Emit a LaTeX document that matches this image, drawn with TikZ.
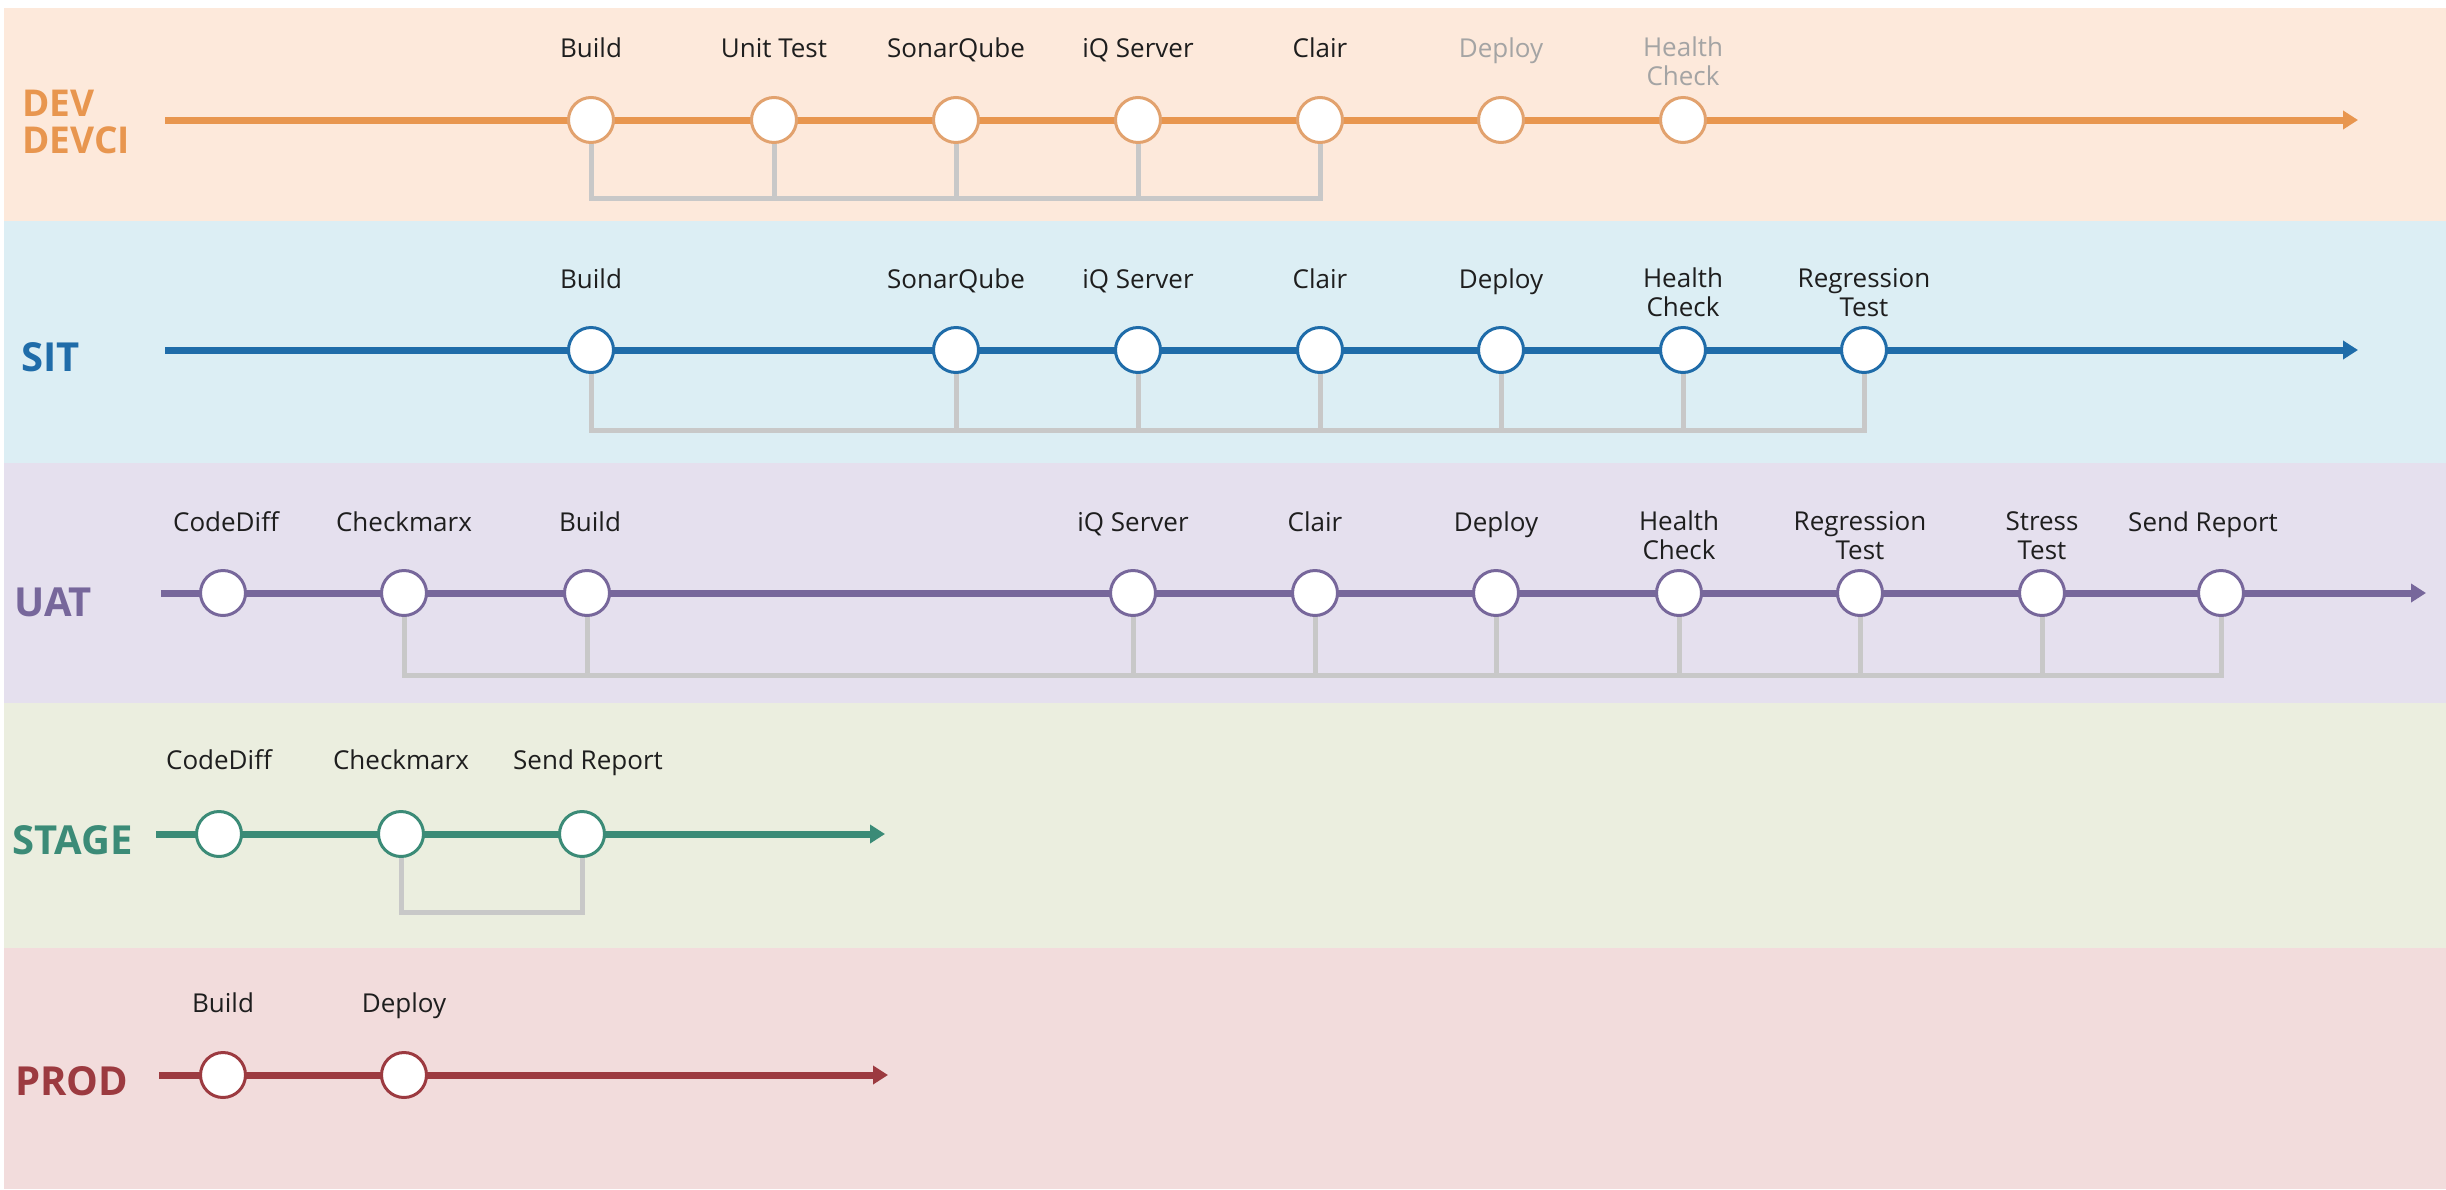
\documentclass[tikz,border=0pt]{standalone}
\usepackage{fontspec}
\setmainfont{Open Sans}
\usetikzlibrary{arrows.meta}
\definecolor{devbg}{HTML}{FDE9DB}
\definecolor{sitbg}{HTML}{DCEEF4}
\definecolor{uatbg}{HTML}{E5E0EE}
\definecolor{stagebg}{HTML}{EBEEDF}
\definecolor{prodbg}{HTML}{F2DCDC}
\definecolor{devc}{HTML}{E8964F}
\definecolor{devcirc}{HTML}{E2A26E}
\definecolor{sitc}{HTML}{1F6CA9}
\definecolor{uatc}{HTML}{77679B}
\definecolor{stagec}{HTML}{3B8B77}
\definecolor{prodc}{HTML}{9C3A40}
\definecolor{txt}{HTML}{1E1E1E}
\definecolor{gtxt}{HTML}{A4A4A4}
\definecolor{brk}{HTML}{C8C8C8}
\begin{document}
\begin{tikzpicture}[x=1pt,y=-1pt,
  stepnode/.style={circle, draw, fill=white, line width=3pt, minimum size=45pt, inner sep=0pt},
  lbl/.style={font=\fontsize{26}{29}\selectfont, align=center, anchor=north, inner sep=0pt, execute at begin node=\strut},
  tl/.style={line width=7pt, -{Triangle[length=15pt,width=18pt]}},
  bracket/.style={draw=brk, line width=5pt},
  stagelbl/.style={font=\fontsize{40}{40}\selectfont\bfseries, inner sep=0pt, anchor=west}]
\useasboundingbox (0,0) rectangle (2446,1189);
\fill[white] (0,0) rectangle (2446,1189);
% bands
\fill[devbg] (4,8) rectangle (2446,221);
\fill[sitbg] (4,221) rectangle (2446,463);
\fill[uatbg] (4,463) rectangle (2446,703);
\fill[stagebg] (4,703) rectangle (2446,948);
\fill[prodbg] (4,948) rectangle (2446,1189);

% stage names
\node[font=\fontsize{37}{37}\selectfont\bfseries, text=devc, inner sep=0pt, anchor=north west, align=left] (devname) at (22,90) {DEV\\DEVCI};
\node[stagelbl, text=sitc] (sitname) at (21,357) {SIT};
\node[stagelbl, text=uatc] (uatname) at (14,602) {UAT};
\node[stagelbl, text=stagec] (stagename) at (12,840) {STAGE};
\node[stagelbl, text=prodc] (prodname) at (15,1081) {PROD};

% ---------------- DEV ----------------
\coordinate (devS) at (165,120);
\coordinate (devE) at (2358,120);
\draw[tl, draw=devc] (devS) -- (devE);
\foreach \n/\x/\t/\c in {dA/591/Build/txt, dB/774/Unit Test/txt, dC/956/SonarQube/txt, dD/1138/iQ Server/txt, dE/1320/Clair/txt, dF/1501/Deploy/gtxt, dG/1683/{Health\\Check}/gtxt}{
  \node[stepnode, draw=devcirc] (\n) at (\x,120) {};
  \node[lbl, text=\c] (\n L) at (\x,37) {\t};
}
\coordinate (devB) at (0,198);
\draw[bracket] (dA.south) |- (dE.south |- devB) -- (dE.south);
\foreach \n in {dB,dC,dD}{\draw[bracket] (\n.south) -- (\n.south |- devB);}

% ---------------- SIT ----------------
\coordinate (sitS) at (165,350);
\coordinate (sitE) at (2358,350);
\draw[tl, draw=sitc] (sitS) -- (sitE);
\foreach \n/\x/\t in {sA/591/Build, sC/956/SonarQube, sD/1138/iQ Server, sE/1320/Clair, sF/1501/Deploy, sG/1683/{Health\\Check}, sH/1864/{Regression\\Test}}{
  \node[stepnode, draw=sitc] (\n) at (\x,350) {};
  \node[lbl, text=txt] (\n L) at (\x,268) {\t};
}
\coordinate (sitB) at (0,430);
\draw[bracket] (sA.south) |- (sH.south |- sitB) -- (sH.south);
\foreach \n in {sC,sD,sE,sF,sG}{\draw[bracket] (\n.south) -- (\n.south |- sitB);}

% ---------------- UAT ----------------
\coordinate (uatS) at (161,593);
\coordinate (uatE) at (2426,593);
\draw[tl, draw=uatc] (uatS) -- (uatE);
\foreach \n/\x/\lx/\t in {uA/223/226/CodeDiff, uB/404/404/Checkmarx, uC/587/590/Build, uD/1133/1133/iQ Server, uE/1315/1315/Clair, uF/1496/1496/Deploy, uG/1679/1679/{Health\\Check}, uH/1860/1860/{Regression\\Test}, uI/2042/2042/{Stress\\Test}, uJ/2221/2203/Send Report}{
  \node[stepnode, draw=uatc] (\n) at (\x,593) {};
  \node[lbl, text=txt] (\n L) at (\lx,511) {\t};
}
\coordinate (uatB) at (0,675);
\draw[bracket] (uB.south) |- (uJ.south |- uatB) -- (uJ.south);
\foreach \n in {uC,uD,uE,uF,uG,uH,uI}{\draw[bracket] (\n.south) -- (\n.south |- uatB);}

% ---------------- STAGE ----------------
\coordinate (stS) at (156,834);
\coordinate (stE) at (885,834);
\draw[tl, draw=stagec] (stS) -- (stE);
\foreach \n/\x/\lx/\t in {tA/219/219/CodeDiff, tB/401/401/Checkmarx, tC/582/588/Send Report}{
  \node[stepnode, draw=stagec] (\n) at (\x,834) {};
  \node[lbl, text=txt] (\n L) at (\lx,749) {\t};
}
\coordinate (stB) at (0,912);
\draw[bracket] (tB.south) |- (tC.south |- stB) -- (tC.south);

% ---------------- PROD ----------------
\coordinate (prS) at (159,1075);
\coordinate (prE) at (888,1075);
\draw[tl, draw=prodc] (prS) -- (prE);
\foreach \n/\x/\t in {pA/223/Build, pB/404/Deploy}{
  \node[stepnode, draw=prodc] (\n) at (\x,1075) {};
  \node[lbl, text=txt] (\n L) at (\x,992) {\t};
}
\end{tikzpicture}
\end{document}
